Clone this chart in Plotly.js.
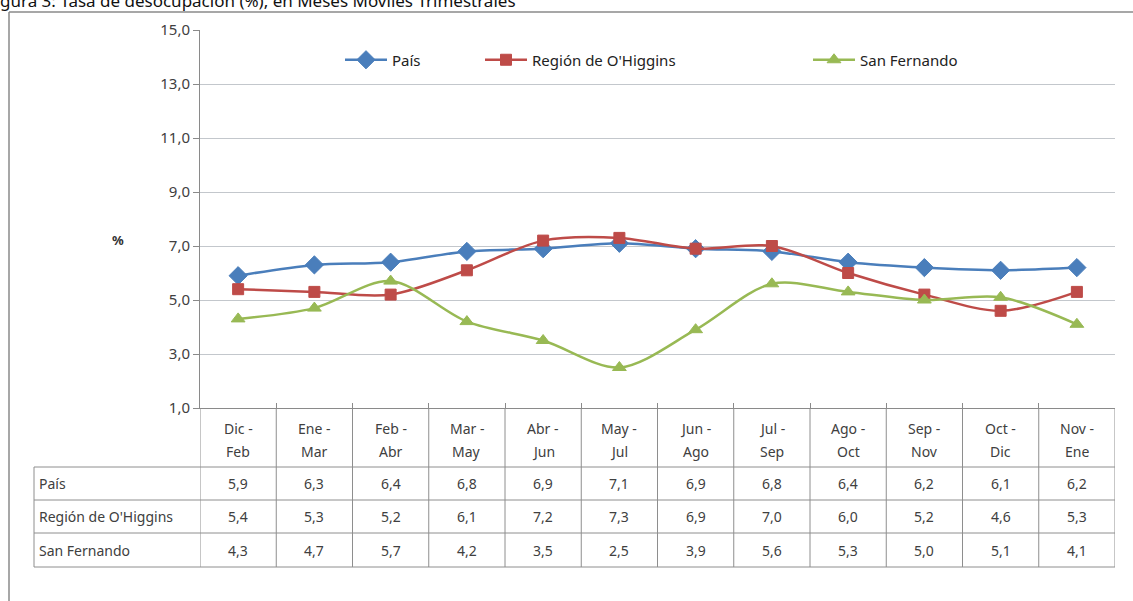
<!DOCTYPE html>
<html>
<head>
<meta charset="utf-8">
<script src="https://cdn.plot.ly/plotly-3.0.1.min.js"></script>
<style>
  html, body { margin: 0; padding: 0; background: #fff; }
  #chart { width: 1133px; height: 601px; }
</style>
</head>
<body>
<div id="chart"></div>
<script>
/* ── Data ─────────────────────────────────────────────── */
const periods = ['Dic - Feb', 'Ene - Mar', 'Feb - Abr', 'Mar - May', 'Abr - Jun', 'May - Jul',
                 'Jun - Ago', 'Jul - Sep', 'Ago - Oct', 'Sep - Nov', 'Oct - Dic', 'Nov - Ene'];
const periodStart = ['Dic -', 'Ene -', 'Feb -', 'Mar -', 'Abr -', 'May -',
                     'Jun -', 'Jul -', 'Ago -', 'Sep -', 'Oct -', 'Nov -'];
const periodEnd   = ['Feb', 'Mar', 'Abr', 'May', 'Jun', 'Jul',
                     'Ago', 'Sep', 'Oct', 'Nov', 'Dic', 'Ene'];
const seriesNames = ['País', "Región de O'Higgins", 'San Fernando'];
const pais        = [5.9, 6.3, 6.4, 6.8, 6.9, 7.1, 6.9, 6.8, 6.4, 6.2, 6.1, 6.2];
const ohiggins    = [5.4, 5.3, 5.2, 6.1, 7.2, 7.3, 6.9, 7.0, 6.0, 5.2, 4.6, 5.3];
const sanFernando = [4.3, 4.7, 5.7, 4.2, 3.5, 2.5, 3.9, 5.6, 5.3, 5.0, 5.1, 4.1];
const yTicks = [1, 3, 5, 7, 9, 11, 13, 15];

/* ── Geometry (px) ────────────────────────────────────── */
const W = 1133, H = 601;
const L = 200, R = 18, T = 30, B = 193;
const PW = W - L - R, PH = H - T - B;
const px = x => (x - L) / PW;
const py = y => (H - B - y) / PH;

const FONT = 'Noto Sans, Open Sans, sans-serif';
const TXT = '#404040';
const GRID = '#c3c7cc';
const TABLE = '#8e8e8e';
const COLORS = ['#4a7ebb', '#be4b48', '#98b954'];
const SYMBOLS = ['diamond', 'square', 'triangle-up'];
const SIZES = [14, 11, 12];

const values = [pais, ohiggins, sanFernando];

const traces = values.map((v, k) => ({
  x: periods, y: v,
  type: 'scatter', mode: 'lines+markers',
  name: seriesNames[k],
  legend: k === 0 ? 'legend' : 'legend' + (k + 1),
  line: { color: COLORS[k], width: 2.5, shape: 'spline', smoothing: 0.9 },
  marker: { symbol: SYMBOLS[k], size: SIZES[k], color: COLORS[k],
            line: { color: COLORS[k], width: 1 } },
  hoverinfo: 'x+y+name',
}));

/* ── Data table below the axis ────────────────────────── */
const rowTops = [467, 500, 533, 567];
const shapes = [];
const lineStyle = { color: TABLE, width: 1 };

// horizontal rules
rowTops.forEach(y => shapes.push({
  type: 'line', xref: 'paper', yref: 'paper',
  x0: px(34), x1: 1, y0: py(y), y1: py(y), line: lineStyle,
}));
// left edge of row label column
shapes.push({ type: 'line', xref: 'paper', yref: 'paper',
  x0: px(34), x1: px(34), y0: py(467), y1: py(567), line: lineStyle });
// column separators
for (let i = 0; i <= periods.length; i++) {
  shapes.push({ type: 'line', xref: 'x', yref: 'paper',
    x0: i - 0.5, x1: i - 0.5, y0: 0, y1: py(567), line: lineStyle });
}
// outer chart frame
shapes.push({ type: 'line', xref: 'paper', yref: 'paper',
  x0: px(9), x1: px(9), y0: py(12), y1: py(610), line: { color: '#8a8a8a', width: 1.5 } });
shapes.push({ type: 'line', xref: 'paper', yref: 'paper',
  x0: px(9), x1: px(1140), y0: py(12), y1: py(12), line: { color: '#8a8a8a', width: 1.5 } });

const annotations = [];
const cellFont = { family: FONT, size: 14, color: TXT };

// header row: two-line period labels
periods.forEach((p, i) => {
  annotations.push({ text: periodStart[i], xref: 'x', yref: 'paper', x: p, y: py(428),
    xanchor: 'center', yanchor: 'middle', showarrow: false, font: cellFont });
  annotations.push({ text: periodEnd[i], xref: 'x', yref: 'paper', x: p, y: py(451),
    xanchor: 'center', yanchor: 'middle', showarrow: false, font: cellFont });
});

const rowCenters = [483.5, 516.5, 550];
seriesNames.forEach((name, k) => {
  annotations.push({
    text: name, xref: 'paper', yref: 'paper', x: px(37), y: py(rowCenters[k]),
    xanchor: 'left', yanchor: 'middle', showarrow: false, font: cellFont,
  });
  values[k].forEach((v, i) => annotations.push({
    text: v.toFixed(1).replace('.', ','), xref: 'x', yref: 'paper',
    x: periods[i], y: py(rowCenters[k]), xanchor: 'center', yanchor: 'middle',
    showarrow: false, font: cellFont,
  }));
});
// y title
annotations.push({
  text: '<b>%</b>', xref: 'paper', yref: 'paper', x: px(118), y: py(240),
  xanchor: 'center', yanchor: 'middle', showarrow: false,
  font: { family: FONT, size: 13, color: '#333' },
});
// figure caption, cut off at the top of the image
annotations.push({
  text: 'gura 3: Tasa de desocupación (%), en Meses Móviles Trimestrales', xref: 'paper', yref: 'paper',
  x: px(-2), y: py(0), xanchor: 'left', yanchor: 'middle', showarrow: false,
  font: { family: FONT, size: 17, color: '#111' },
});

const legendBase = {
  orientation: 'h', xanchor: 'left', yanchor: 'middle', y: py(60),
  bgcolor: 'rgba(0,0,0,0)', itemwidth: 42,
  font: { family: FONT, size: 15, color: '#222' },
};

const layout = {
  width: W, height: H,
  paper_bgcolor: '#fff', plot_bgcolor: '#fff',
  margin: { l: L, r: R, t: T, b: B, pad: 0 },
  separators: ',.',
  font: { family: FONT, size: 14, color: TXT },
  showlegend: true,
  legend:  { ...legendBase, x: px(340) },
  legend2: { ...legendBase, x: px(480) },
  legend3: { ...legendBase, x: px(808) },
  xaxis: {
    type: 'category', range: [-0.5, periods.length - 0.5],
    showticklabels: false, showgrid: false, zeroline: false,
    showline: true, linecolor: '#8a8a8a', linewidth: 1,
    ticks: 'inside', tickson: 'boundaries', ticklen: 5, tickcolor: '#8a8a8a',
  },
  yaxis: {
    range: [1, 15], tickvals: yTicks, tickformat: '.1f',
    showgrid: true, gridcolor: GRID, gridwidth: 1, zeroline: false,
    showline: true, linecolor: '#8a8a8a', linewidth: 1,
    ticks: 'outside', ticklen: 6, tickcolor: '#8a8a8a',
    tickfont: { family: FONT, size: 15, color: TXT },
  },
  shapes, annotations,
};

Plotly.newPlot('chart', traces, layout, { displayModeBar: false, staticPlot: true });
</script>
</body>
</html>
